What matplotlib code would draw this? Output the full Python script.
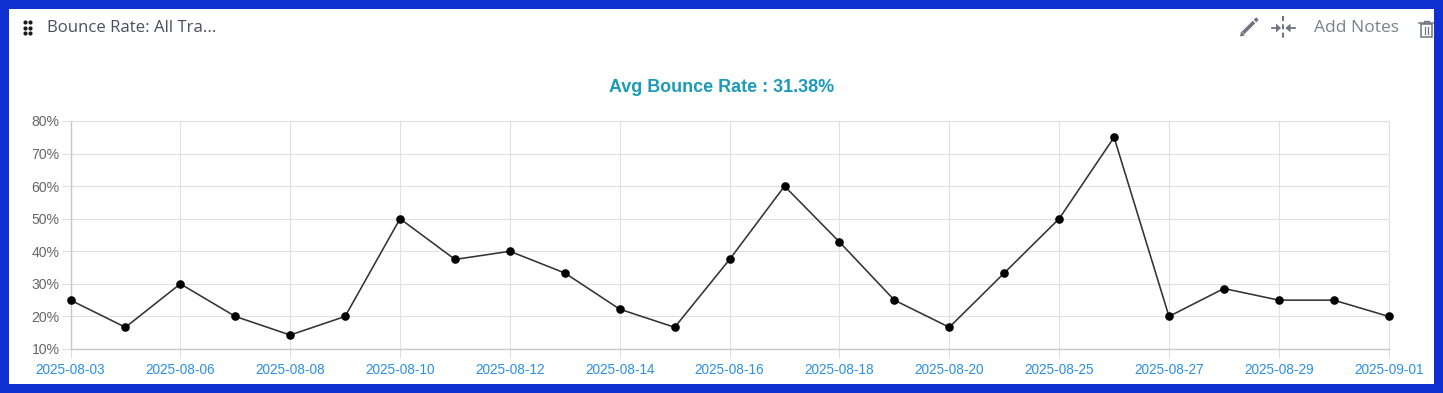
import matplotlib
matplotlib.use('Agg')
import matplotlib.pyplot as plt
from matplotlib.patches import Rectangle, Polygon
import numpy as np

W, H = 1443, 393

bounce_rate = [25, 16.67, 30, 20, 14.29, 20, 50, 37.5, 40, 33.33, 22.22, 16.67, 37.5,
               60, 42.86, 25, 16.67, 33.33, 50, 75, 20, 28.57, 25, 25, 20]
date_labels = ['2025-08-03', '2025-08-06', '2025-08-08', '2025-08-10', '2025-08-12',
               '2025-08-14', '2025-08-16', '2025-08-18', '2025-08-20', '2025-08-25',
               '2025-08-27', '2025-08-29', '2025-09-01']
y_ticks = [10, 20, 30, 40, 50, 60, 70, 80]
y_labels = ['10%', '20%', '30%', '40%', '50%', '60%', '70%', '80%']


def px(n):
    # css pixels to points at dpi 100
    return n * 0.72


def main():
    fig = plt.figure(figsize=(W / 100, H / 100), dpi=100, facecolor='#0f2fd1')

    # overlay in pixel coordinates for the card and the header
    bg = fig.add_axes([0, 0, 1, 1], zorder=0)
    bg.set_xlim(0, W)
    bg.set_ylim(H, 0)
    bg.axis('off')
    bg.add_patch(Rectangle((9, 9), 1425, 375, fc='white', ec='none'))

    # drag handle
    for x in (24.5, 30):
        for y in (21.5, 27.5, 33):
            bg.plot(x, y, 'o', ms=3, color='#1a1a1a', mew=0)
    bg.text(47, 28.5, 'Bounce Rate: All Tra...', family='Open Sans', fontsize=px(16.7),
            color='#4a5060', va='center', ha='left')
    bg.text(1314, 28.5, 'Add Notes', family='Open Sans', fontsize=px(17.4),
            color='#7b818c', va='center', ha='left')

    # pencil
    icon = '#6f7580'
    bg.plot([1243, 1254], [33, 22], color=icon, lw=2.6, solid_capstyle='butt')
    bg.add_patch(Polygon([[1240, 36.5], [1241, 31.5], [1245, 35.5]], fc=icon, ec='none'))
    bg.plot([1255, 1257.5], [21, 18.5], color=icon, lw=2.6, solid_capstyle='butt')

    # collapse icon
    bg.plot([1283, 1283], [16, 39], color=icon, lw=1.5, ls=(0, (2.4, 1.6)))
    bg.plot([1272, 1279], [28, 28], color=icon, lw=1.3)
    bg.plot([1287, 1295], [28, 28], color=icon, lw=1.3)
    bg.add_patch(Polygon([[1281, 28], [1276, 23.5], [1276, 32.5]], fc=icon, ec='none'))
    bg.add_patch(Polygon([[1285.5, 28], [1290.5, 23.5], [1290.5, 32.5]], fc=icon, ec='none'))

    # trash can
    bg.add_patch(Rectangle((1420.5, 24), 11, 12.5, fc='none', ec=icon, lw=1.1))
    bg.plot([1419, 1433], [23, 23], color=icon, lw=1.1)
    bg.plot([1423.5, 1423.5, 1428.5, 1428.5], [23, 20.5, 20.5, 23], color=icon, lw=1)
    bg.plot([1424.7, 1424.7], [27, 33.5], color=icon, lw=0.9)
    bg.plot([1427.5, 1427.5], [27, 33.5], color=icon, lw=0.9)

    bg.text(721.5, 87.5, 'Avg Bounce Rate : 31.38%', family='Liberation Sans', fontsize=px(17.9),
            fontweight='bold', color='#1a9bb8', ha='center', va='center')

    # chart
    left, right, top, bottom = 70.5, 1388.7, 121, 349
    ax = fig.add_axes([left / W, 1 - bottom / H, (right - left) / W, (bottom - top) / H], zorder=1)
    ax.patch.set_alpha(0)
    xs = np.arange(len(bounce_rate))
    ax.plot(xs, bounce_rate, color='#333333', lw=1.15, marker='o', ms=6.2,
            mfc='black', mec='black', mew=0, clip_on=False, zorder=5)

    ax.set_xlim(0, len(bounce_rate) - 1)
    ax.set_ylim(10, 80)
    ax.set_yticks(y_ticks)
    ax.set_yticklabels(y_labels, family='Liberation Sans', fontsize=px(14), color='#666666')
    ax.set_xticks(xs[::2])
    ax.set_xticklabels(date_labels, family='Liberation Sans', fontsize=px(13.6), color='#2b8fe8')
    ax.tick_params(axis='x', length=6.5, width=0.72, color='#dddddd', pad=3.4)
    ax.tick_params(axis='y', length=6.5, width=0.72, color='#dddddd', pad=1.5)
    ax.grid(True, color='#e0e0e0', lw=0.8)
    ax.set_axisbelow(True)
    for side in ('top', 'right'):
        ax.spines[side].set_color('#e0e0e0')
        ax.spines[side].set_linewidth(0.8)
    for side in ('left', 'bottom'):
        ax.spines[side].set_color('#c8c8c8')
        ax.spines[side].set_linewidth(1.0)

    fig.savefig('out.png', dpi=100, facecolor=fig.get_facecolor())


if __name__ == '__main__':
    main()
